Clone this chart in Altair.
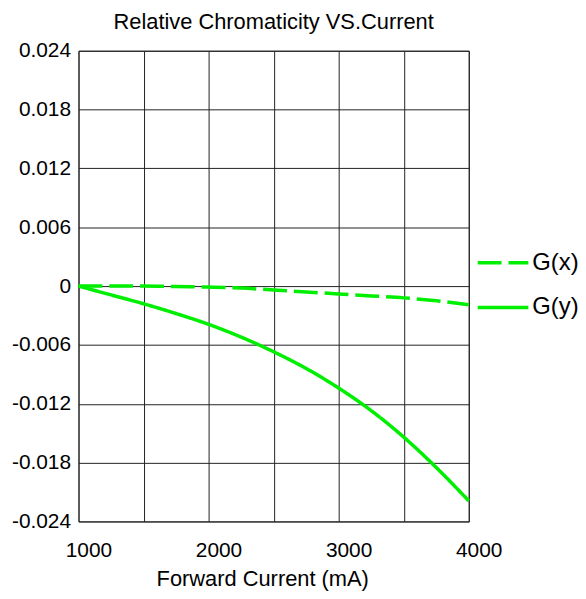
import altair as alt
import pandas as pd

# ---- data ----
current = [1000, 1250, 1500, 1750, 2000, 2250, 2500, 2750, 3000, 3250, 3500, 3750, 4000]
gx = [0.0, 0.0, 0.0, -0.00005, -0.0001, -0.0002, -0.0004, -0.0006, -0.0008, -0.0010, -0.0012, -0.0015, -0.0019]
gy = [0.0, -0.0009, -0.0018, -0.0028, -0.0039, -0.0052, -0.0067, -0.0084, -0.0104, -0.0127, -0.0154, -0.0185, -0.0219]
series_names = ["G(x)", "G(y)"]
y_ticks = [0.024, 0.018, 0.012, 0.006, 0.0, -0.006, -0.012, -0.018, -0.024]
x_grid = [1000, 1500, 2000, 2500, 3000, 3500, 4000]
x_labels = [1000, 2000, 3000, 4000]

rows = []
for c, a, b in zip(current, gx, gy):
    rows.append({"current": c, "value": a, "series": series_names[0]})
    rows.append({"current": c, "value": b, "series": series_names[1]})
df = pd.DataFrame(rows)

FONT = "Liberation Sans"
GREEN = "#00ee00"

x_label_expr = "indexof([" + ",".join(str(v) for v in x_labels) + "], datum.value) >= 0 ? datum.label : ''"
y_label_expr = "abs(datum.value) < 1e-9 ? '0' : replace(format(datum.value, '.3f'), '\u2212', '-')"

legend_kw = dict(
    title=None,
    orient="none",
    legendX=400,
    legendY=186,
    symbolType="stroke",
    symbolSize=2601,
    symbolStrokeWidth=3.5,
    labelFont=FONT,
    labelFontSize=24,
    labelColor="black",
    labelOffset=2,
    rowPadding=5,
    padding=0,
)

chart = alt.Chart(df).mark_line(strokeWidth=3.5, interpolate="monotone").encode(
    x=alt.X(
        "current:Q",
        scale=alt.Scale(domain=[1000, 4000], nice=False, zero=False),
        axis=alt.Axis(
            values=x_grid,
            format="d",
            labelExpr=x_label_expr,
            labelFlush=False,
            labelOffset=10,
            labelPadding=35,
            labelBaseline="alphabetic",
            title="Forward Current (mA)",
            titleX=185,
            titleY=65,
            titleAlign="center",
            titleBaseline="alphabetic",
        ),
    ),
    y=alt.Y(
        "value:Q",
        scale=alt.Scale(domain=[-0.024, 0.024], nice=False, zero=False),
        axis=alt.Axis(
            values=y_ticks,
            labelExpr=y_label_expr,
            labelPadding=8,
            labelBaseline="middle",
            title=None,
        ),
    ),
    color=alt.Color(
        "series:N",
        scale=alt.Scale(domain=series_names, range=[GREEN, GREEN]),
        legend=alt.Legend(**legend_kw),
    ),
    strokeDash=alt.StrokeDash(
        "series:N",
        scale=alt.Scale(domain=series_names, range=[[24, 7], [1, 0]]),
        legend=alt.Legend(**legend_kw),
    ),
).properties(
    width=393,
    height=474,
    background="white",
    title=alt.Title(
        "Relative Chromaticity VS.Current",
        font=FONT,
        fontSize=22,
        fontWeight="normal",
        color="black",
        anchor="middle",
        frame="group",
        offset=6,
    ),
    autosize=alt.AutoSizeParams(type="none"),
    padding={"left": 71, "top": 41, "right": 110, "bottom": 68},
).configure_axis(
    grid=True,
    gridColor="#222222",
    gridOpacity=1,
    gridWidth=1,
    domain=False,
    ticks=False,
    tickSize=0,
    labelFont=FONT,
    labelFontSize=21,
    labelColor="black",
    titleFont=FONT,
    titleFontSize=22,
    titleFontWeight="normal",
    titleColor="black",
).configure_view(
    stroke="#222222",
    strokeWidth=1,
)

chart.save("out.html", embed_options={"renderer": "svg", "actions": False})
